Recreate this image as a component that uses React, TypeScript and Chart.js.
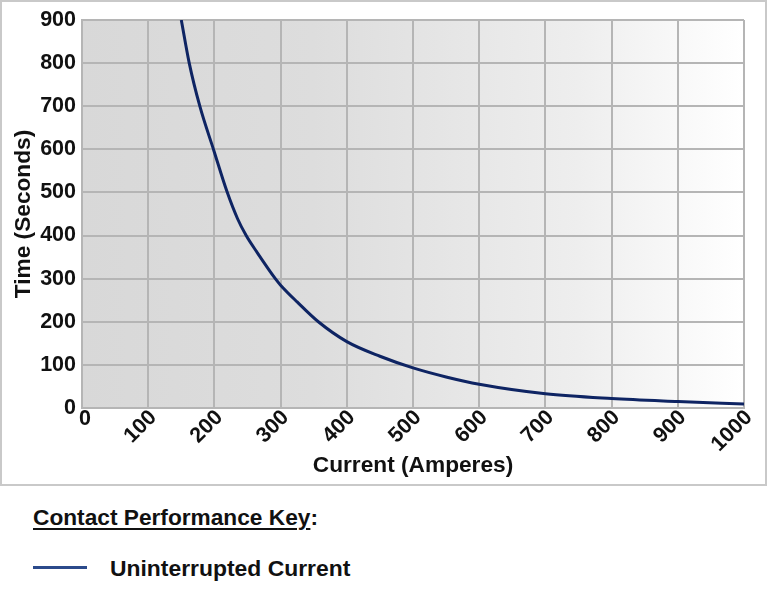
import React, { useEffect, useRef } from 'react';
import { Chart, registerables } from 'chart.js';

Chart.register(...registerables);

// Data
const currents = [150, 162, 178, 199, 219, 235, 248, 264, 292, 300, 325, 357, 400, 450, 500, 550, 600, 700, 800, 900, 1000];
const times = [900, 800, 700, 598, 502, 439, 400, 362, 300, 285, 246, 200, 154, 120, 93, 72, 55, 33, 22, 15, 9];
const xTickValues = [0, 100, 200, 300, 400, 500, 600, 700, 800, 900, 1000];
const yTickValues = [0, 100, 200, 300, 400, 500, 600, 700, 800, 900];
const seriesLabel = 'Uninterrupted Current';
const xTitle = 'Current (Amperes)';
const yTitle = 'Time (Seconds)';
const keyTitle = 'Contact Performance Key';

const FONT = '"Liberation Sans", Arial, Helvetica, sans-serif';
const GRID = '#b5b5b5';
const TEXT = '#111111';
const LINE = '#0e2463';

const bgPlugin = {
  id: 'plotBg',
  beforeDraw(chart: any) {
    const { ctx, chartArea } = chart;
    if (!chartArea) return;
    const g = ctx.createLinearGradient(chartArea.left, 0, chartArea.right, 0);
    g.addColorStop(0, '#d8d8d8');
    g.addColorStop(0.35, '#dddddd');
    g.addColorStop(0.75, '#eeeeee');
    g.addColorStop(1, '#ffffff');
    ctx.save();
    ctx.fillStyle = g;
    ctx.fillRect(chartArea.left, chartArea.top, chartArea.right - chartArea.left, chartArea.bottom - chartArea.top);
    ctx.restore();
  },
};

const zeroLabelPlugin = {
  id: 'zeroLabel',
  afterDraw(chart: any) {
    const { ctx, scales } = chart;
    const x = scales.x.getPixelForValue(xTickValues[0]);
    ctx.save();
    ctx.font = `bold 21.5px ${FONT}`;
    ctx.fillStyle = TEXT;
    ctx.textAlign = 'center';
    ctx.textBaseline = 'middle';
    ctx.fillText(String(xTickValues[0]), x + 3, scales.x.top + 11);
    ctx.restore();
  },
};

export default function App() {
  const canvasRef = useRef<HTMLCanvasElement | null>(null);

  useEffect(() => {
    document.body.style.margin = '0';
    const canvas = canvasRef.current;
    if (!canvas) return;
    const chart = new Chart(canvas, {
      type: 'line',
      data: {
        datasets: [
          {
            label: seriesLabel,
            data: currents.map((c, i) => ({ x: c, y: times[i] })),
            borderColor: LINE,
            borderWidth: 3,
            pointRadius: 0,
            fill: false,
            cubicInterpolationMode: 'monotone',
          },
        ],
      },
      options: {
        animation: false,
        responsive: false,
        devicePixelRatio: 1,
        layout: { padding: { left: 0, top: 20, right: 24, bottom: 0 } },
        plugins: {
          legend: { display: false },
          tooltip: { enabled: false },
        },
        scales: {
          x: {
            type: 'linear',
            min: 0,
            max: 1000,
            afterBuildTicks: (s: any) => {
              s.ticks = xTickValues.map((v) => ({ value: v }));
            },
            afterFit: (s: any) => {
              s.height = 78;
            },
            grid: { color: GRID, lineWidth: 2, drawTicks: false },
            border: { display: true, color: GRID, width: 2 },
            ticks: {
              minRotation: 45,
              maxRotation: 45,
              padding: -3,
              labelOffset: 5,
              color: TEXT,
              font: { family: FONT, size: 21.5, weight: 'bold' },
              callback: (v: any) => (v === 0 ? '' : String(v)),
            },
            title: {
              display: true,
              text: xTitle,
              color: TEXT,
              font: { family: FONT, size: 22.7, weight: 'bold' },
              padding: { top: 0, bottom: 7 },
            },
          },
          y: {
            type: 'linear',
            min: 0,
            max: 900,
            afterBuildTicks: (s: any) => {
              s.ticks = yTickValues.map((v) => ({ value: v }));
            },
            afterFit: (s: any) => {
              s.width = 82;
            },
            grid: { color: GRID, lineWidth: 2, drawTicks: false },
            border: { display: true, color: GRID, width: 2 },
            ticks: {
              padding: 6,
              color: TEXT,
              font: { family: FONT, size: 21.5, weight: 'bold' },
            },
            title: {
              display: true,
              text: yTitle,
              color: TEXT,
              font: { family: FONT, size: 22.7, weight: 'bold' },
              padding: { top: 10, bottom: 0 },
            },
          },
        },
      } as any,
      plugins: [bgPlugin, zeroLabelPlugin],
    });
    return () => chart.destroy();
  }, []);

  return (
    <div style={{ position: 'relative', width: 768, height: 603, background: '#fff', fontFamily: FONT }}>
      <canvas ref={canvasRef} width={768} height={486} style={{ position: 'absolute', left: 0, top: 0 }} />
      <div
        style={{
          position: 'absolute',
          left: 0,
          top: 0,
          width: 767,
          height: 486,
          boxSizing: 'border-box',
          border: '2px solid #c9c9c9',
          pointerEvents: 'none',
        }}
      />
      <div
        style={{
          position: 'absolute',
          left: 33,
          top: 505,
          fontSize: 22.7,
          fontWeight: 'bold',
          color: TEXT,
          lineHeight: '25px',
          whiteSpace: 'nowrap',
        }}
      >
        <span style={{ textDecoration: 'underline', textDecorationThickness: '2px', textUnderlineOffset: '3px' }}>{keyTitle}</span>:
      </div>
      <div
        style={{
          position: 'absolute',
          left: 33,
          top: 566,
          width: 54,
          height: 3,
          background: '#2b4a8b',
        }}
      />
      <div
        style={{
          position: 'absolute',
          left: 110,
          top: 556,
          fontSize: 22.9,
          fontWeight: 'bold',
          color: TEXT,
          lineHeight: '25px',
          whiteSpace: 'nowrap',
        }}
      >
        {seriesLabel}
      </div>
    </div>
  );
}
